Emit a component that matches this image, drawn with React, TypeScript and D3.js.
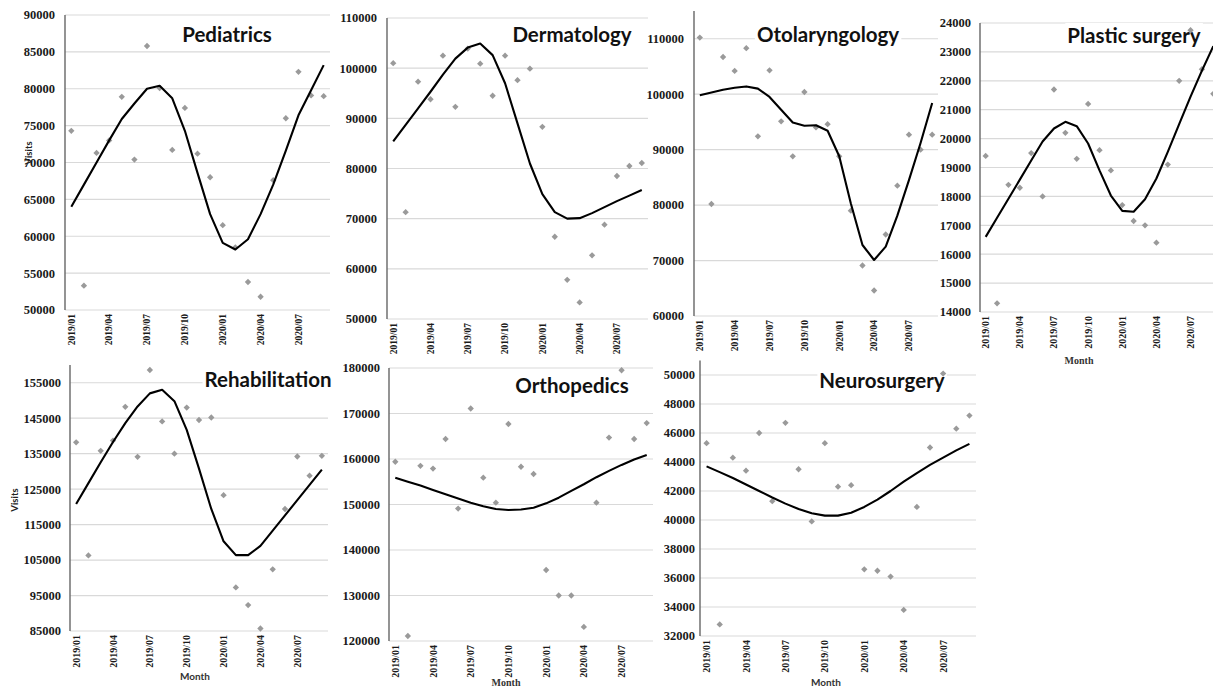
import React, { useEffect, useRef } from 'react';
import * as d3 from 'd3';

const WIDTH = 1213;
const HEIGHT = 687;

const months = [
  '2019/01', '2019/02', '2019/03', '2019/04', '2019/05', '2019/06', '2019/07',
  '2019/08', '2019/09', '2019/10', '2019/11', '2019/12', '2020/01', '2020/02',
  '2020/03', '2020/04', '2020/05', '2020/06', '2020/07', '2020/08', '2020/09'
];
const labelledMonths = ['2019/01', '2019/04', '2019/07', '2019/10', '2020/01', '2020/04', '2020/07'];

// monthly visits (grey diamonds) and fitted trend (black line), per department
const pediatricsVisits = [74300, 53300, 71300, 73000, 78900, 70400, 85800, 80100, 71700, 77400, 71200, 68000, 61500, 58500, 53800, 51800, 67600, 76000, 82300, 79100, 79000];
const pediatricsTrend = [64000, 67000, 70000, 73000, 75900, 78000, 80000, 80400, 78700, 74300, 68600, 63000, 59100, 58200, 59600, 63000, 67000, 71600, 76400, 79800, 83200];
const pediatricsTicks = [50000, 55000, 60000, 65000, 70000, 75000, 80000, 85000, 90000];

const dermatologyVisits = [101000, 71300, 97300, 93800, 102500, 92300, 103900, 100900, 94500, 102500, 97600, 99900, 88300, 66400, 57800, 53300, 62700, 68800, 78500, 80500, 81100];
const dermatologyTrend = [85400, 88700, 92000, 95300, 98700, 101900, 104100, 104900, 102600, 97000, 89000, 81000, 74900, 71300, 70000, 70100, 71100, 72300, 73500, 74600, 75700];
const dermatologyTicks = [50000, 60000, 70000, 80000, 90000, 100000, 110000];

const otolaryngologyVisits = [110200, 80200, 106700, 104200, 108300, 92400, 104300, 95100, 88800, 100400, 94000, 94600, 88800, 79000, 69100, 64600, 74700, 83500, 92700, 90000, 92700];
const otolaryngologyTrend = [99800, 100300, 100800, 101150, 101400, 101000, 99500, 97200, 94900, 94300, 94400, 93400, 88800, 80300, 72800, 70100, 72500, 78100, 84500, 91200, 98400];
const otolaryngologyTicks = [60000, 70000, 80000, 90000, 100000, 110000];

const plasticVisits = [19400, 14300, 18400, 18300, 19500, 18000, 21700, 20200, 19300, 21200, 19600, 18900, 17700, 17150, 17000, 16400, 19100, 22000, 23750, 22400, 21550];
const plasticTrend = [16600, 17260, 17920, 18580, 19240, 19900, 20350, 20580, 20430, 19830, 18900, 18030, 17500, 17470, 17900, 18620, 19540, 20500, 21450, 22350, 23200];
const plasticTicks = [14000, 15000, 16000, 17000, 18000, 19000, 20000, 21000, 22000, 23000, 24000];

const rehabilitationVisits = [138200, 106300, 135800, 138700, 148200, 134100, 158600, 144100, 135000, 148000, 144500, 145200, 123300, 97300, 92300, 85700, 102400, 119400, 134200, 128800, 134400];
const rehabilitationTrend = [120800, 126700, 132600, 138300, 143600, 148300, 152000, 153000, 149800, 141700, 130800, 119400, 110300, 106400, 106400, 109000, 113300, 117600, 121900, 126200, 130500];
const rehabilitationTicks = [85000, 95000, 105000, 115000, 125000, 135000, 145000, 155000];

const orthopedicsVisits = [159400, 121100, 158500, 157900, 164400, 149100, 171100, 155900, 150400, 167700, 158300, 156700, 135600, 130000, 130000, 123100, 150400, 164700, 179500, 164400, 167900];
const orthopedicsTrend = [155900, 155000, 154150, 153200, 152250, 151300, 150400, 149600, 149000, 148800, 148900, 149300, 150250, 151500, 153000, 154450, 156000, 157400, 158700, 159900, 160900];
const orthopedicsTicks = [120000, 130000, 140000, 150000, 160000, 170000, 180000];

const neurosurgeryVisits = [45300, 32800, 44300, 43400, 46000, 41300, 46700, 43500, 39900, 45300, 42300, 42400, 36600, 36500, 36100, 33800, 40900, 45000, 50100, 46300, 47200];
const neurosurgeryTrend = [43700, 43300, 42900, 42450, 42000, 41550, 41130, 40760, 40460, 40300, 40300, 40500, 40900, 41400, 42000, 42640, 43240, 43800, 44300, 44800, 45250];
const neurosurgeryTicks = [32000, 34000, 36000, 38000, 40000, 42000, 44000, 46000, 48000, 50000];

// where each small chart sits in the composite
const panels = [
  { title: 'Pediatrics', visits: pediatricsVisits, trend: pediatricsTrend, ticks: pediatricsTicks, max: 90000,
    left: 65, right: 330, top: 15, bottom: 310, titleX: 227, titleY: 42, xSize: 9.5, gap: 10, visitsAt: [29, 153] },
  { title: 'Dermatology', visits: dermatologyVisits, trend: dermatologyTrend, ticks: dermatologyTicks, max: 110000,
    left: 387, right: 648, top: 18, bottom: 319, titleX: 572, titleY: 42, xSize: 9.5, gap: 10 },
  { title: 'Otolaryngology', visits: otolaryngologyVisits, trend: otolaryngologyTrend, ticks: otolaryngologyTicks, max: 115000,
    left: 694, right: 938, top: 11, bottom: 316, titleX: 828, titleY: 42, xSize: 9.5, gap: 10 },
  { title: 'Plastic surgery', visits: plasticVisits, trend: plasticTrend, ticks: plasticTicks, max: 24000,
    left: 980, right: 1219, top: 23, bottom: 312, titleX: 1134, titleY: 43, xSize: 10, gap: 9,
    month: { x: 1079, y: 364, serif: true } },
  { title: 'Rehabilitation', visits: rehabilitationVisits, trend: rehabilitationTrend, ticks: rehabilitationTicks, max: 160000,
    left: 70, right: 328, top: 365, bottom: 631, titleX: 268, titleY: 387, xSize: 10, gap: 9,
    month: { x: 195, y: 680, serif: false }, visitsAt: [15, 500] },
  { title: 'Orthopedics', visits: orthopedicsVisits, trend: orthopedicsTrend, ticks: orthopedicsTicks, max: 180000,
    left: 389, right: 653, top: 368, bottom: 641, titleX: 572, titleY: 393, xSize: 10, gap: 9,
    month: { x: 506, y: 686, serif: true } },
  { title: 'Neurosurgery', visits: neurosurgeryVisits, trend: neurosurgeryTrend, ticks: neurosurgeryTicks, max: 51000,
    left: 700, right: 976, top: 360.5, bottom: 636, titleX: 882, titleY: 388, xSize: 10, gap: 5,
    month: { x: 826, y: 686, serif: false } }
];

const SERIF = '"Liberation Serif", "Times New Roman", serif';
const SANS = 'Lato, "Open Sans", sans-serif';

const App = () => {
  const svgRef = useRef<SVGSVGElement>(null);

  useEffect(() => {
    const svg = d3.select(svgRef.current);
    svg.selectAll('*').remove();

    svg.append('rect')
      .attr('width', WIDTH)
      .attr('height', HEIGHT)
      .attr('fill', '#fff');

    const diamond = d3.symbol().type(d3.symbolSquare).size(20)();

    panels.forEach(p => {
      const g = svg.append('g');
      const x = d3.scalePoint<string>().domain(months).range([p.left, p.right]).padding(0.5);
      const y = d3.scaleLinear().domain([p.ticks[0], p.max]).range([p.bottom, p.top]);

      // gridlines
      g.selectAll('line.grid')
        .data(p.ticks)
        .join('line')
        .attr('class', 'grid')
        .attr('x1', p.left)
        .attr('x2', p.right)
        .attr('y1', d => y(d))
        .attr('y2', d => y(d))
        .attr('stroke', '#d9d9d9')
        .attr('stroke-width', 1.2);

      // title in a white box
      const title = g.append('text')
        .attr('x', p.titleX)
        .attr('y', p.titleY)
        .attr('text-anchor', 'middle')
        .attr('font-family', SANS)
        .attr('font-weight', 700)
        .attr('font-size', 20.5)
        .attr('fill', '#111')
        .text(p.title);
      const bb = (title.node() as SVGTextElement).getBBox();
      g.insert('rect', 'text')
        .attr('x', bb.x - 2)
        .attr('y', bb.y)
        .attr('width', bb.width + 4)
        .attr('height', bb.height)
        .attr('fill', '#fff');

      // value axis
      g.append('line')
        .attr('x1', p.left)
        .attr('x2', p.left)
        .attr('y1', p.top)
        .attr('y2', p.bottom)
        .attr('stroke', '#666')
        .attr('stroke-width', 1.4);

      g.selectAll('text.ytick')
        .data(p.ticks)
        .join('text')
        .attr('class', 'ytick')
        .attr('x', p.left - p.gap)
        .attr('y', d => y(d))
        .attr('dy', '0.35em')
        .attr('text-anchor', 'end')
        .attr('font-family', SERIF)
        .attr('font-weight', 700)
        .attr('font-size', 12.5)
        .attr('fill', '#1a1a1a')
        .text(d => d);

      // month labels, rotated
      g.selectAll('text.xtick')
        .data(labelledMonths)
        .join('text')
        .attr('class', 'xtick')
        .attr('transform', d => `translate(${x(d)},${p.bottom + 4}) rotate(-90)`)
        .attr('dy', '0.35em')
        .attr('text-anchor', 'end')
        .attr('font-family', SERIF)
        .attr('font-weight', 700)
        .attr('font-size', p.xSize)
        .attr('fill', '#1a1a1a')
        .text(d => d);

      if (p.visitsAt) {
        g.append('text')
          .attr('transform', `translate(${p.visitsAt[0]},${p.visitsAt[1]}) rotate(-90)`)
          .attr('dy', '0.35em')
          .attr('text-anchor', 'middle')
          .attr('font-family', SANS)
          .attr('font-weight', 700)
          .attr('font-size', 9.5)
          .attr('fill', '#222')
          .text('Visits');
      }

      if (p.month) {
        g.append('text')
          .attr('x', p.month.x)
          .attr('y', p.month.y)
          .attr('text-anchor', 'middle')
          .attr('font-family', p.month.serif ? SERIF : SANS)
          .attr('font-weight', 700)
          .attr('font-size', 10)
          .attr('fill', '#333')
          .text('Month');
      }

      // monthly visits
      g.selectAll('path.point')
        .data(p.visits)
        .join('path')
        .attr('class', 'point')
        .attr('d', diamond)
        .attr('transform', (d, i) => `translate(${x(months[i])},${y(d)}) rotate(45)`)
        .attr('fill', '#9a9a9a');

      // trend line
      const line = d3.line<number>()
        .x((d, i) => x(months[i]) as number)
        .y(d => y(d));
      g.append('path')
        .attr('d', line(p.trend))
        .attr('fill', 'none')
        .attr('stroke', '#000')
        .attr('stroke-width', 2.1)
        .attr('stroke-linejoin', 'round');
    });

    return () => {
      svg.selectAll('*').remove();
    };
  }, []);

  return (
    <svg
      ref={svgRef}
      width={WIDTH}
      height={HEIGHT}
      style={{ position: 'fixed', left: 0, top: 0, display: 'block' }}
    />
  );
};

export default App;
